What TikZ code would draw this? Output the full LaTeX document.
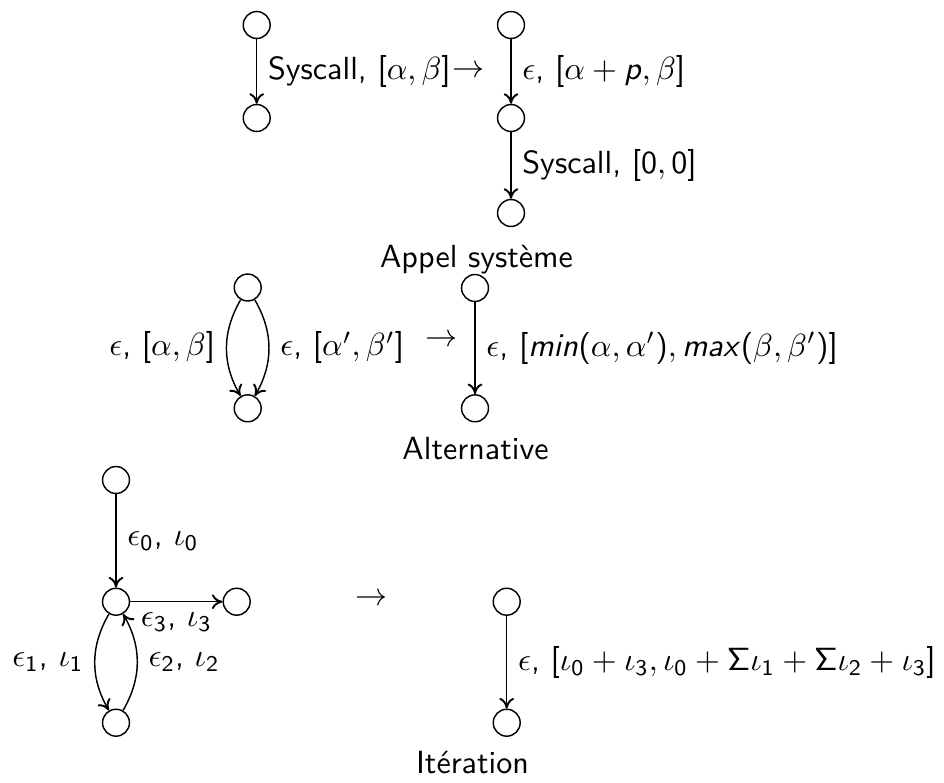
\documentclass[tikz,border=0pt]{standalone}
\usetikzlibrary{arrows.meta}
\renewcommand{\familydefault}{\sfdefault}
\SetSymbolFont{operators}{normal}{OT1}{cmss}{m}{n}
\SetSymbolFont{operators}{bold}{OT1}{cmss}{bx}{n}
\DeclareSymbolFont{sfslant}{OT1}{cmss}{m}{sl}
\DeclareMathSymbol{a}{\mathalpha}{sfslant}{`a}
\DeclareMathSymbol{i}{\mathalpha}{sfslant}{`i}
\DeclareMathSymbol{m}{\mathalpha}{sfslant}{`m}
\DeclareMathSymbol{n}{\mathalpha}{sfslant}{`n}
\DeclareMathSymbol{p}{\mathalpha}{sfslant}{`p}
\DeclareMathSymbol{x}{\mathalpha}{sfslant}{`x}
\begin{document}
\begin{tikzpicture}[x=0.312pt,y=-0.312pt,line width=0.45pt,
  st/.style={circle,draw,minimum size=8.4pt,inner sep=0pt},
  conn/.style={-{Computer Modern Rightarrow[length=3.3pt,width=4.6pt,line width=0.6pt]}}]
\useasboundingbox (0,0) rectangle (944,782);
% Appel systeme
\node[st] (a1) at (256.7,25) {};
\node[st] (a2) at (256.7,118) {};
\node[st] (b1) at (511,25) {};
\node[st] (b2) at (511,118) {};
\node[st] (b3) at (511,213) {};
\draw[conn] (a1) -- node[right] {Syscall, $[\alpha,\beta]$} (a2);
\node (t1) at (468.5,71.5) {$\rightarrow$};
\draw[conn] (b1) -- node[right] {$\epsilon$, $[\alpha+p,\beta]$} (b2);
\draw[conn] (b2) -- node[right] {Syscall, $[0,0]$} (b3);
\node[anchor=base] (h1) at (476.5,267) {Appel système};
% Alternative
\node[st] (c1) at (247.7,287.5) {};
\node[st] (c2) at (247.7,408.3) {};
\draw[conn] (c1) to[bend right] node[left] {$\epsilon$, $[\alpha,\beta]$} (c2);
\draw[conn] (c1) to[bend left] node[right] {$\epsilon$, $[\alpha',\beta']$} (c2);
\node (t2) at (442,341) {$\rightarrow$};
\node[st] (d1) at (475,288) {};
\node[st] (d2) at (475,408.3) {};
\draw[conn] (d1) -- node[right] {$\epsilon$, $[min(\alpha,\alpha'),max(\beta,\beta')]$} (d2);
\node[anchor=base] (h2) at (475.5,459) {Alternative};
% Iteration
\node[st] (e0) at (116,480) {};
\node[st] (e1) at (116,601.7) {};
\node[st] (e2) at (236.7,601.7) {};
\node[st] (e3) at (116,722.7) {};
\draw[conn] (e0) -- node[right] {$\epsilon_0$, $\iota_0$} (e1);
\draw[conn] (e1) -- node[below] {$\epsilon_3$, $\iota_3$} (e2);
\draw[conn] (e1) to[bend right] node[left] {$\epsilon_1$, $\iota_1$} (e3);
\draw[conn] (e3) to[bend right] node[right] {$\epsilon_2$, $\iota_2$} (e1);
\node (t3) at (372,600) {$\rightarrow$};
\node[st] (f1) at (506.7,601.7) {};
\node[st] (f2) at (506.7,722.7) {};
\draw[conn] (f1) -- node[right] {$\epsilon$, $[\iota_0+\iota_3,\iota_0+\Sigma\iota_1+\Sigma\iota_2+\iota_3]$} (f2);
\node[anchor=base] (h3) at (472.5,773) {Itération};
\end{tikzpicture}
\end{document}
